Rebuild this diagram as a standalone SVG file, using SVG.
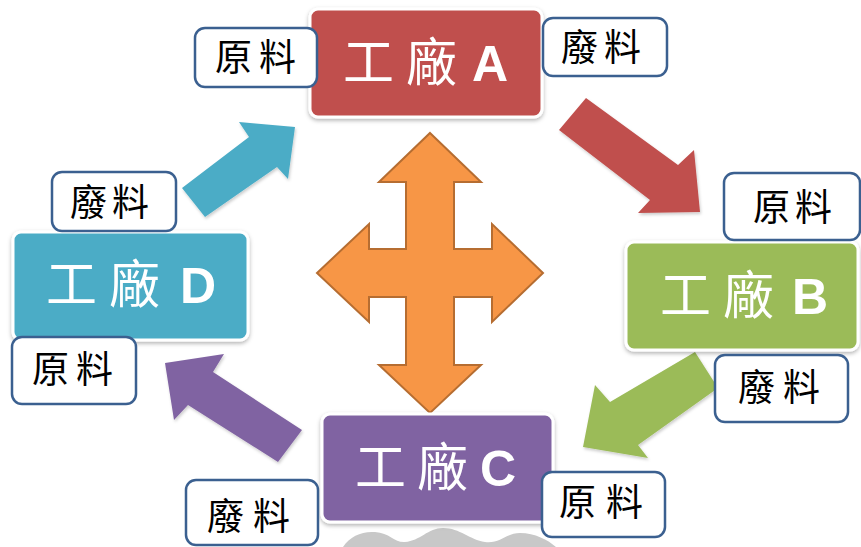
<svg xmlns="http://www.w3.org/2000/svg" width="861" height="547" viewBox="0 0 861 547">
  <style>
    .box { stroke: #ffffff; stroke-width: 3; filter: url(#shadow); }
    .title { fill: #ffffff; font-family: "Noto Sans CJK TC", "Noto Sans CJK SC", sans-serif; font-size: 51px; }
    .lat { font-family: "Liberation Sans", Arial, sans-serif; font-weight: bold; font-size: 50px; }
    .lbl { fill: #ffffff; stroke: #3b6090; stroke-width: 2.5; }
    .lt { fill: #000000; font-family: "Noto Sans CJK TC", "Noto Sans CJK SC", sans-serif; font-size: 37px; }
    .arrow { filter: url(#ashadow); }
  </style>
  <defs>
    <filter id="shadow" x="-10%" y="-10%" width="120%" height="130%">
      <feDropShadow dx="0" dy="2" stdDeviation="2" flood-color="#000000" flood-opacity="0.3"/>
    </filter>
    <filter id="ashadow" x="-10%" y="-10%" width="120%" height="130%">
      <feDropShadow dx="1" dy="2" stdDeviation="1.5" flood-color="#000000" flood-opacity="0.2"/>
    </filter>
  </defs>
  <rect width="861" height="547" fill="#ffffff"/>

  <!-- partial grey shape at bottom -->
  <path d="M343,547 C350,536 362,531 375,532 C390,533 395,543 405,542 C420,541 428,528 443,528 C460,528 470,540 485,542 C500,544 506,533 520,533 C535,533 548,540 556,547 Z" fill="#c8c8c8"/>

  <g id="connectors">
    <polygon class="arrow" points="586,98 678,165 694,150 700,212 638,213 650,200 559,130" fill="#c0504d"/>
    <polygon class="arrow" points="695,352 610,402 595,385 583,447 648,458 638,445 718,388" fill="#9bbb59"/>
    <polygon class="arrow" points="165,363 224,354 213,372 302,430 278,462 188,405 174,420" fill="#8064a2"/>
    <polygon class="arrow" points="182,188 249,137 239,122 295,127 288,179 277,167 205,217" fill="#4bacc6"/>
  </g>

  <g id="cross">
    <path d="M430,133 L481,182 L454,182 L454,249 L492,249 L492,224 L543,273 L492,322 L492,297 L454,297 L454,365 L481,365 L430,413 L379,365 L406,365 L406,297 L369,297 L369,322 L317,273 L369,224 L369,249 L406,249 L406,182 L379,182 Z" fill="#f79646" stroke="#b66d31" stroke-width="2" stroke-linejoin="miter"/>
  </g>

  <g id="factoryA">
    <rect class="box" x="310" y="9" width="232" height="108" rx="8" fill="#c0504d"/>
    <text class="title" y="81"><tspan x="343">工</tspan><tspan x="406">廠</tspan><tspan class="lat" x="472">A</tspan></text>
  </g>
  <g id="factoryB">
    <rect class="box" x="626" y="242" width="232" height="108" rx="8" fill="#9bbb59"/>
    <text class="title" y="314"><tspan x="660">工</tspan><tspan x="723">廠</tspan><tspan class="lat" x="792">B</tspan></text>
  </g>
  <g id="factoryC">
    <rect class="box" x="322" y="414" width="231" height="108" rx="8" fill="#8064a2"/>
    <text class="title" y="486"><tspan x="355">工</tspan><tspan x="417">廠</tspan><tspan class="lat" x="480">C</tspan></text>
  </g>
  <g id="factoryD">
    <rect class="box" x="13" y="232" width="235" height="108" rx="8" fill="#4bacc6"/>
    <text class="title" y="303"><tspan x="46">工</tspan><tspan x="109">廠</tspan><tspan class="lat" x="180">D</tspan></text>
  </g>

  <g id="labelA-in">
    <rect class="lbl" x="195" y="28" width="122" height="59" rx="10"/>
    <text class="lt" y="71"><tspan x="215">原</tspan><tspan x="259">料</tspan></text>
  </g>
  <g id="labelA-out">
    <rect class="lbl" x="543" y="18" width="124" height="58" rx="10"/>
    <text class="lt" y="61"><tspan x="561">廢</tspan><tspan x="604">料</tspan></text>
  </g>
  <g id="labelB-in">
    <rect class="lbl" x="724" y="173" width="136" height="67" rx="10"/>
    <text class="lt" y="221"><tspan x="753">原</tspan><tspan x="795">料</tspan></text>
  </g>
  <g id="labelB-out">
    <rect class="lbl" x="715" y="355" width="133" height="67" rx="10"/>
    <text class="lt" y="401"><tspan x="738">廢</tspan><tspan x="783">料</tspan></text>
  </g>
  <g id="labelC-in">
    <rect class="lbl" x="542" y="472" width="123" height="65" rx="10"/>
    <text class="lt" y="516"><tspan x="559">原</tspan><tspan x="606">料</tspan></text>
  </g>
  <g id="labelC-out">
    <rect class="lbl" x="186" y="480" width="132" height="65" rx="10"/>
    <text class="lt" y="530"><tspan x="207">廢</tspan><tspan x="253">料</tspan></text>
  </g>
  <g id="labelD-in">
    <rect class="lbl" x="12" y="337" width="124" height="67" rx="10"/>
    <text class="lt" y="383"><tspan x="32">原</tspan><tspan x="76">料</tspan></text>
  </g>
  <g id="labelD-out">
    <rect class="lbl" x="52" y="172" width="124" height="59" rx="10"/>
    <text class="lt" y="216"><tspan x="70">廢</tspan><tspan x="112">料</tspan></text>
  </g>
</svg>
